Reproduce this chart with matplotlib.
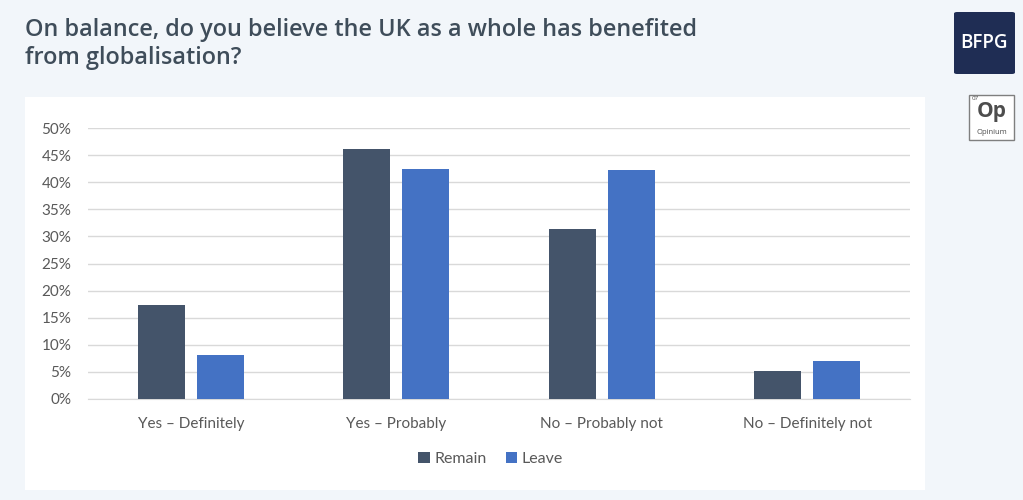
import matplotlib.pyplot as plt
import numpy as np
from matplotlib.patches import FancyBboxPatch, Rectangle

categories = ["Yes – Definitely", "Yes – Probably", "No – Probably not", "No – Definitely not"]
remain = [17.4, 46.1, 31.4, 5.2]
leave = [8.1, 42.5, 42.2, 7.1]
yticks = [0, 5, 10, 15, 20, 25, 30, 35, 40, 45, 50]

REMAIN_COLOR = "#44546a"
LEAVE_COLOR = "#4472c4"
TEXT_COLOR = "#595959"

fig = plt.figure(figsize=(10.23, 5.0), dpi=100)
fig.patch.set_facecolor("#f2f6fa")

# white chart panel
panel = fig.add_axes([25 / 1023, 10 / 500, 900 / 1023, 393 / 500], zorder=0)
panel.set_facecolor("white")
panel.set_axis_off()
panel.add_patch(Rectangle((0, 0), 1, 1, transform=panel.transAxes,
                          facecolor="white", edgecolor="none"))

title_kw = dict(fontsize=16.9, family="Open Sans", weight="semibold",
                color="#3f4d5a", va="center", ha="left")
fig.text(25 / 1023, 1 - 30 / 500, "On balance, do you believe the UK as a whole has benefited", **title_kw)
fig.text(25 / 1023, 1 - 58 / 500, "from globalisation?", **title_kw)

# BFPG logo
fig.patches.append(FancyBboxPatch((954 / 1023, 1 - 74 / 500), 61 / 1023, 62 / 500,
                                  boxstyle="round,pad=0,rounding_size=0.003",
                                  transform=fig.transFigure, facecolor="#1f2d54",
                                  edgecolor="none"))
fig.text(984.5 / 1023, 1 - 43 / 500, "BFPG", color="white", fontsize=13.5,
         family="Open Sans", weight="semibold", ha="center", va="center")

# Opinium logo
fig.patches.append(Rectangle((969 / 1023, 1 - 140 / 500), 45 / 1023, 45 / 500,
                             transform=fig.transFigure, facecolor="white",
                             edgecolor="#7f7f7f", linewidth=1))
fig.text(991.5 / 1023, 1 - 112 / 500, "Op", color="#4d4d4d", fontsize=15,
         family="Open Sans", weight="bold", ha="center", va="center")
fig.text(991.5 / 1023, 1 - 133 / 500, "Opinium", color="#4d4d4d", fontsize=5.5,
         family="Open Sans", ha="center", va="center")
fig.text(971.5 / 1023, 1 - 99 / 500, "07", color="#4d4d4d", fontsize=4.5,
         family="Open Sans", ha="left", va="center")

ax = fig.add_axes([88 / 1023, 1 - 399 / 500, 822 / 1023, 271 / 500], zorder=2)
ax.patch.set_alpha(0)

x = np.arange(len(categories))
width = 0.229
offset = 0.143
ax.bar(x - offset, remain, width, color=REMAIN_COLOR, label="Remain", zorder=3)
ax.bar(x + offset, leave, width, color=LEAVE_COLOR, label="Leave", zorder=3)

ax.set_xlim(-0.5, 3.5)
ax.set_ylim(0, 50)
ax.set_yticks(yticks)
ax.set_yticklabels([f"{t}%" for t in yticks])
ax.set_xticks(x)
ax.set_xticklabels(categories)
ax.yaxis.grid(True, color="#d9d9d9", linewidth=1, zorder=0)
ax.set_axisbelow(True)
ax.tick_params(axis="both", length=0, labelsize=11, labelcolor=TEXT_COLOR)
ax.tick_params(axis="y", pad=12)
ax.tick_params(axis="x", pad=13)
for lab in ax.get_xticklabels() + ax.get_yticklabels():
    lab.set_family("Lato")
for side in ["top", "right", "left"]:
    ax.spines[side].set_visible(False)
ax.spines["bottom"].set_color("#d9d9d9")

leg = ax.legend(loc="center", bbox_to_anchor=(0.49, -0.22), ncol=2, frameon=False,
                handlelength=0.7, handleheight=0.7, handletextpad=0.3, columnspacing=1.2,
                prop={"family": "Lato", "size": 11.5})
for t in leg.get_texts():
    t.set_color(TEXT_COLOR)

fig.savefig("out.png", dpi=100, facecolor=fig.get_facecolor())
